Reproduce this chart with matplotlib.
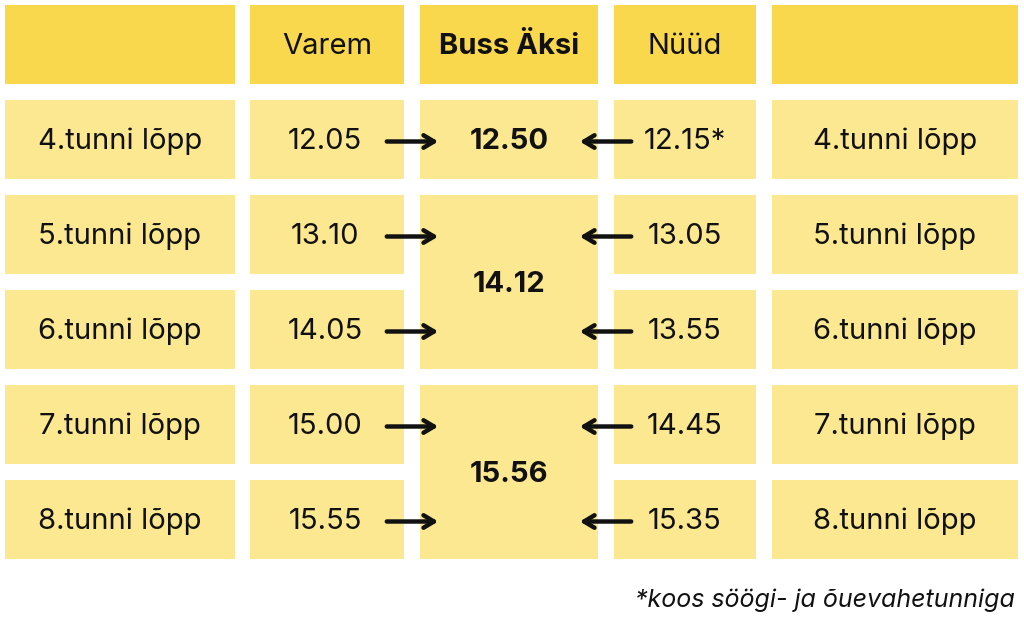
import matplotlib
matplotlib.use("Agg")
import matplotlib.pyplot as plt
from matplotlib.patches import Rectangle

headers = ["", "Varem", "Buss Äksi", "Nüüd", ""]
labels = ["4.tunni lõpp", "5.tunni lõpp", "6.tunni lõpp", "7.tunni lõpp", "8.tunni lõpp"]
varem = ["12.05", "13.10", "14.05", "15.00", "15.55"]
nuud = ["12.15*", "13.05", "13.55", "14.45", "15.35"]
buss = ["12.50", "14.12", "15.56"]
buss_rows = [(0, 0), (1, 2), (3, 4)]
footnote = "*koos söögi- ja õuevahetunniga"

W, H = 1024, 626
fig = plt.figure(figsize=(W/100, H/100), dpi=100)
ax = fig.add_axes([0, 0, 1, 1])
ax.set_xlim(0, W); ax.set_ylim(H, 0); ax.axis("off")
plt.rcParams['font.family'] = ['Inter', 'DejaVu Sans']

cols = [(5, 235), (250, 404), (420, 598), (614, 756), (772, 1018)]
hdr = (5, 84)
rows = [(100 + i*95, 179 + i*95) for i in range(5)]
dark = "#F9D84E"; light = "#FCE891"
fs = 21
dy = 2

def box(c, y0, y1, color):
    x0, x1 = cols[c]
    ax.add_patch(Rectangle((x0, y0), x1-x0, y1-y0, color=color, lw=0))

for c, h in enumerate(headers):
    box(c, *hdr, dark)
    cx = sum(cols[c])/2
    ax.text(cx, sum(hdr)/2 + dy, h, ha="center", va="center", fontsize=fs,
            fontweight="bold" if c == 2 else "normal", color="#111")

for i, (y0, y1) in enumerate(rows):
    cy = (y0+y1)/2
    for c in (0, 1, 3, 4):
        box(c, y0, y1, light)
    ax.text(sum(cols[0])/2, cy + dy, labels[i], ha="center", va="center", fontsize=fs, color="#111")
    ax.text(sum(cols[4])/2, cy + dy, labels[i], ha="center", va="center", fontsize=fs, color="#111")
    ax.text(325, cy + dy, varem[i], ha="center", va="center", fontsize=fs, color="#111")
    ax.text(685, cy + dy, nuud[i], ha="center", va="center", fontsize=fs, color="#111")
    ax.annotate("", xy=(441, cy + dy), xytext=(384, cy + dy),
                arrowprops=dict(arrowstyle="->,head_length=0.75,head_width=0.45", lw=3.2, color="#111"))
    ax.annotate("", xy=(577, cy + dy), xytext=(634, cy + dy),
                arrowprops=dict(arrowstyle="->,head_length=0.75,head_width=0.45", lw=3.2, color="#111"))

for t, (a, b) in zip(buss, buss_rows):
    y0, y1 = rows[a][0], rows[b][1]
    box(2, y0, y1, light)
    ax.text(sum(cols[2])/2, (y0+y1)/2 + dy, t, ha="center", va="center", fontsize=fs,
            fontweight="bold", color="#111")

ax.text(1015, 600, footnote, ha="right", va="center", fontsize=18, style="italic", color="#111")
fig.savefig("out.png", dpi=100)
